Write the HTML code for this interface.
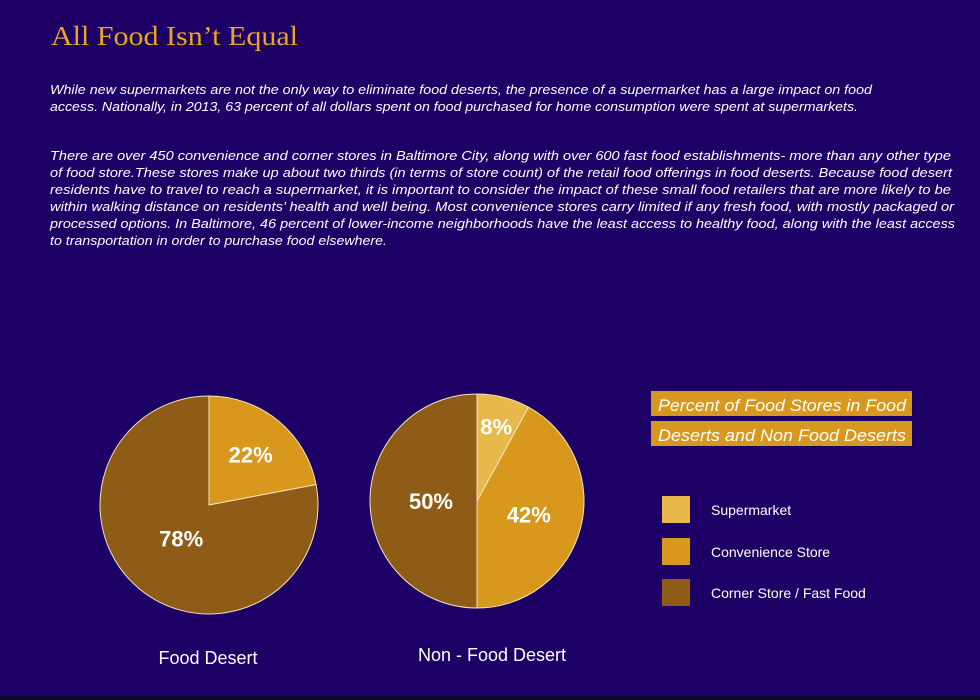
<!DOCTYPE html>
<html><head><meta charset="utf-8"><style>
html,body{margin:0;padding:0;background:#1c0066;}
svg{display:block;font-family:"Liberation Sans",sans-serif;}
</style></head><body>
<svg id="chart" width="980" height="700" viewBox="0 0 980 700">
<rect x="0" y="0" width="980" height="700" fill="#1c0066"/>
<rect x="0" y="696" width="980" height="4" fill="#0d0a2a"/>
<text x="51" y="45" fill="#e8a51e" font-family="Liberation Serif, serif" font-size="27" textLength="247" lengthAdjust="spacingAndGlyphs">All Food Isn’t Equal</text>
<g fill="#ffffff" font-style="italic" font-size="12.5">
<text x="50" y="94" textLength="822" lengthAdjust="spacingAndGlyphs">While new supermarkets are not the only way to eliminate food deserts, the presence of a supermarket has a large impact on food</text>
<text x="50" y="111" textLength="808" lengthAdjust="spacingAndGlyphs">access. Nationally, in 2013, 63 percent of all dollars spent on food purchased for home consumption were spent at supermarkets.</text>
<text x="50" y="160" textLength="901" lengthAdjust="spacingAndGlyphs">There are over 450 convenience and corner stores in Baltimore City, along with over 600 fast food establishments- more than any other type</text>
<text x="50" y="177" textLength="902" lengthAdjust="spacingAndGlyphs">of food store.These stores make up about two thirds (in terms of store count) of the retail food offerings in food deserts. Because food desert</text>
<text x="50" y="194" textLength="901" lengthAdjust="spacingAndGlyphs">residents have to travel to reach a supermarket, it is important to consider the impact  of these small food retailers that are more likely to be</text>
<text x="50" y="211" textLength="904" lengthAdjust="spacingAndGlyphs">within walking distance on residents’ health and well being. Most convenience stores carry limited if any fresh food, with mostly packaged or</text>
<text x="50" y="228" textLength="905" lengthAdjust="spacingAndGlyphs">processed options. In Baltimore, 46 percent of lower-income neighborhoods have the least access to healthy food, along with the least access</text>
<text x="50" y="245" textLength="337" lengthAdjust="spacingAndGlyphs">to transportation in order to purchase food elsewhere.</text>
</g>
<g id="pies"></g>
<rect x="651" y="391" width="261" height="25" fill="#d8981e"/>
<rect x="651" y="421" width="261" height="25" fill="#d8981e"/>
<text x="658" y="411" fill="#fff" font-style="italic" font-size="17" textLength="248" lengthAdjust="spacingAndGlyphs">Percent of Food Stores in Food</text>
<text x="658" y="441" fill="#fff" font-style="italic" font-size="17" textLength="248" lengthAdjust="spacingAndGlyphs">Deserts and Non Food Deserts</text>
<g id="legend"></g>
</svg>
<script>
const categories = ["Supermarket", "Convenience Store", "Corner Store / Fast Food"];
const colors = ["#e8b94a", "#d8981e", "#8f5c17"];
const pieNames = ["Food Desert", "Non - Food Desert"];
const foodDesertValues = [0, 22, 78];
const nonFoodDesertValues = [8, 42, 50];
const NS = "http://www.w3.org/2000/svg";
const pies = document.getElementById("pies");
const layouts = [{cx:209, cy:505, r:109, labelY:664, labelX:208}, {cx:477, cy:501, r:107, labelY:661, labelX:492}];
const labelFrac = [[0.55,0.6,0.4],[0.72,0.5,0.43]];
[foodDesertValues, nonFoodDesertValues].forEach((vals, pi) => {
  const L = layouts[pi];
  const total = vals.reduce((a,b)=>a+b,0);
  const g = document.createElementNS(NS, "g");
  
  
  pies.appendChild(g);
  let acc = 0;
  vals.forEach((v, i) => {
    if (v <= 0) return;
    const a0 = acc / total * 2 * Math.PI, a1 = (acc + v) / total * 2 * Math.PI;
    acc += v;
    const p = (a) => [L.cx + L.r * Math.sin(a), L.cy - L.r * Math.cos(a)];
    const [x0,y0] = p(a0), [x1,y1] = p(a1);
    const path = document.createElementNS(NS, "path");
    const large = (a1 - a0) > Math.PI ? 1 : 0;
    path.setAttribute("d", `M${L.cx},${L.cy} L${x0},${y0} A${L.r},${L.r} 0 ${large} 1 ${x1},${y1} Z`);
    path.setAttribute("fill", colors[i]);
    path.setAttribute("stroke", "#f3e3b8");
    path.setAttribute("stroke-width", "1");
    
    
    g.appendChild(path);
    const am = (a0 + a1) / 2, f = labelFrac[pi][i];
    const t = document.createElementNS(NS, "text");
    t.setAttribute("x", L.cx + L.r * f * Math.sin(am));
    t.setAttribute("y", L.cy - L.r * f * Math.cos(am) + 8);
    t.setAttribute("text-anchor", "middle");
    t.setAttribute("fill", "#ffffff");
    t.setAttribute("font-size", "22");
    t.setAttribute("font-weight", "bold");
    t.textContent = v + "%";
    
    
    g.appendChild(t);
  });
  const lbl = document.createElementNS(NS, "text");
  lbl.setAttribute("x", L.labelX);
  lbl.setAttribute("y", L.labelY);
  lbl.setAttribute("text-anchor", "middle");
  lbl.setAttribute("fill", "#ffffff");
  lbl.setAttribute("font-size", "18");
  lbl.textContent = pieNames[pi];
  
  
  g.appendChild(lbl);
});
const legend = document.getElementById("legend");
const legendYs = [496, 538, 579];
categories.forEach((c, i) => {
  const r = document.createElementNS(NS, "rect");
  r.setAttribute("x", 662); r.setAttribute("y", legendYs[i]);
  r.setAttribute("width", 28); r.setAttribute("height", 27);
  r.setAttribute("fill", colors[i]);
  
  
  legend.appendChild(r);
  const t = document.createElementNS(NS, "text");
  t.setAttribute("x", 711); t.setAttribute("y", legendYs[i] + 19);
  t.setAttribute("fill", "#ffffff"); t.setAttribute("font-size", "14");
  t.textContent = c;
  
  
  legend.appendChild(t);
});
</script>
</body></html>
